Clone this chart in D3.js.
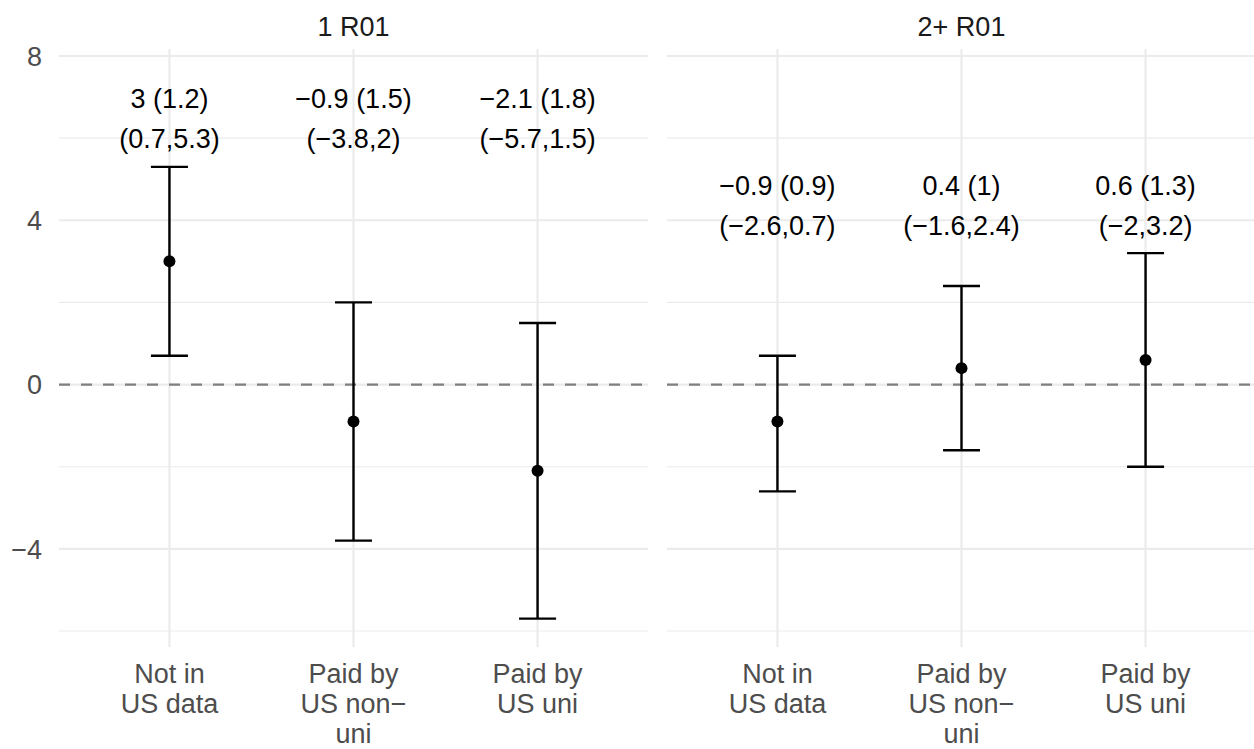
<!DOCTYPE html>
<html>
<head>
<meta charset="utf-8">
<script src="https://cdn.jsdelivr.net/npm/d3@7"></script>
<style>
  body { margin: 0; background: #fff; }
  svg text { font-family: "Liberation Sans", Arial, Helvetica, sans-serif; }
</style>
</head>
<body>
<svg id="chart" width="1254" height="749"></svg>
<script>
const panels = ["1 R01", "2+ R01"];
const categories = ["Not in\nUS data", "Paid by\nUS non\u2212\nuni", "Paid by\nUS uni"];

// estimate, standard error and 95% interval per panel, in category order
const estimates = [[3, -0.9, -2.1], [-0.9, 0.4, 0.6]];
const stdErrors = [[1.2, 1.5, 1.8], [0.9, 1, 1.3]];
const lowers = [[0.7, -3.8, -5.7], [-2.6, -1.6, -2]];
const uppers = [[5.3, 2, 1.5], [0.7, 2.4, 3.2]];

const yTicks = [-4, 0, 4, 8];
const yMinor = [-6, -2, 2, 6];

const svg = d3.select("#chart");

const panelTop = 49, panelBottom = 647;
const panelX = [[59, 648], [667, 1256]];
const fontSize = 27;

const y = d3.scaleLinear().domain([-6.39, 8.17]).range([panelBottom, panelTop]);

const fmt = (v) => String(v).replace("-", "\u2212");

const grid = "#EBEBEB";

// y-axis tick labels (left of first panel only)
svg.append("g")
  .selectAll("text")
  .data(yTicks)
  .join("text")
  .attr("x", 42)
  .attr("y", (d) => y(d))
  .attr("dy", "0.36em")
  .attr("text-anchor", "end")
  .attr("font-size", fontSize)
  .attr("fill", "#4D4D4D")
  .text(fmt);

panels.forEach((name, p) => {
  const [x0, x1] = panelX[p];
  const x = d3.scalePoint().domain(d3.range(categories.length)).range([x0, x1]).padding(0.6);
  const g = svg.append("g");

  // grid
  g.selectAll(".minor")
    .data(yMinor)
    .join("line")
    .attr("x1", x0).attr("x2", x1)
    .attr("y1", (d) => y(d)).attr("y2", (d) => y(d))
    .attr("stroke", grid).attr("stroke-width", 1.1);
  g.selectAll(".major")
    .data(yTicks)
    .join("line")
    .attr("x1", x0).attr("x2", x1)
    .attr("y1", (d) => y(d)).attr("y2", (d) => y(d))
    .attr("stroke", grid).attr("stroke-width", 2.2);
  g.selectAll(".vgrid")
    .data(d3.range(categories.length))
    .join("line")
    .attr("x1", (d) => x(d)).attr("x2", (d) => x(d))
    .attr("y1", panelTop).attr("y2", panelBottom)
    .attr("stroke", grid).attr("stroke-width", 2.2);

  // reference line at 0
  g.append("line")
    .attr("x1", x0).attr("x2", x1)
    .attr("y1", y(0)).attr("y2", y(0))
    .attr("stroke", "#7F7F7F")
    .attr("stroke-width", 2.2)
    .attr("stroke-dasharray", "11,11");

  // strip title
  g.append("text")
    .attr("x", (x0 + x1) / 2)
    .attr("y", 36)
    .attr("text-anchor", "middle")
    .attr("font-size", fontSize)
    .attr("fill", "#1A1A1A")
    .text(name);

  const rows = d3.range(categories.length).map((i) => ({
    i,
    est: estimates[p][i],
    se: stdErrors[p][i],
    lo: lowers[p][i],
    hi: uppers[p][i],
  }));

  const capW = 18.5;
  const bars = g.selectAll(".bar").data(rows).join("g");
  bars.append("line")
    .attr("x1", (d) => x(d.i)).attr("x2", (d) => x(d.i))
    .attr("y1", (d) => y(d.lo)).attr("y2", (d) => y(d.hi))
    .attr("stroke", "#000").attr("stroke-width", 2.4);
  bars.append("line")
    .attr("x1", (d) => x(d.i) - capW).attr("x2", (d) => x(d.i) + capW)
    .attr("y1", (d) => y(d.lo)).attr("y2", (d) => y(d.lo))
    .attr("stroke", "#000").attr("stroke-width", 2.4);
  bars.append("line")
    .attr("x1", (d) => x(d.i) - capW).attr("x2", (d) => x(d.i) + capW)
    .attr("y1", (d) => y(d.hi)).attr("y2", (d) => y(d.hi))
    .attr("stroke", "#000").attr("stroke-width", 2.4);
  bars.append("circle")
    .attr("cx", (d) => x(d.i)).attr("cy", (d) => y(d.est))
    .attr("r", 6).attr("fill", "#000");

  // labels above the tallest interval of the panel
  const labelY = y(d3.max(uppers[p]) + 0.45);
  const lab = bars.append("text")
    .attr("text-anchor", "middle")
    .attr("font-size", fontSize)
    .attr("fill", "#000");
  lab.append("tspan")
    .attr("x", (d) => x(d.i)).attr("y", labelY - 40)
    .text((d) => `${fmt(d.est)} (${fmt(d.se)})`);
  lab.append("tspan")
    .attr("x", (d) => x(d.i)).attr("y", labelY)
    .text((d) => `(${fmt(d.lo)},${fmt(d.hi)})`);

  // x-axis labels
  const xl = g.selectAll(".xlab")
    .data(categories)
    .join("text")
    .attr("text-anchor", "middle")
    .attr("font-size", fontSize)
    .attr("fill", "#4D4D4D");
  xl.each(function (d, i) {
    d3.select(this)
      .selectAll("tspan")
      .data(d.split("\n"))
      .join("tspan")
      .attr("x", x(i))
      .attr("y", (t, k) => 683 + k * 30)
      .text((t) => t);
  });
});
</script>
</body>
</html>
